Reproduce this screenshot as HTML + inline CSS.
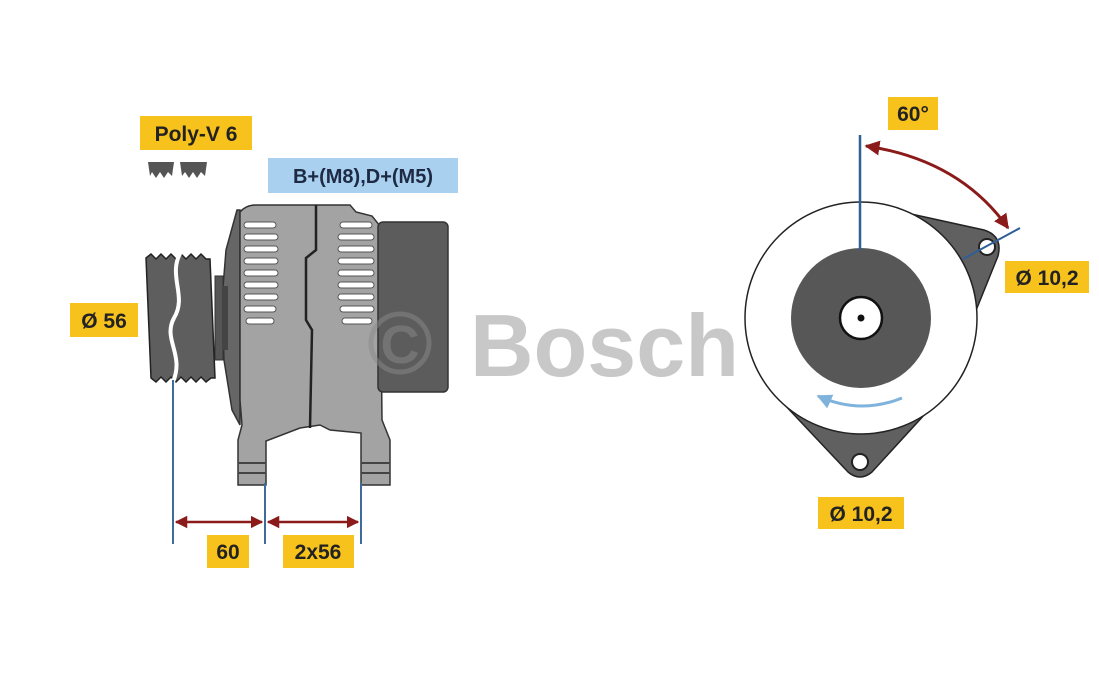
<!DOCTYPE html>
<html><head><meta charset="utf-8"><style>
html,body{margin:0;padding:0;background:#fff;}
svg{display:block;}
text{font-family:"Liberation Sans",sans-serif;font-weight:bold;}
</style></head><body>
<svg width="1099" height="687" viewBox="0 0 1099 687" xmlns="http://www.w3.org/2000/svg">
<defs>
<marker id="ar" viewBox="0 0 10 10" refX="9" refY="5" markerWidth="5" markerHeight="5" orient="auto-start-reverse"><path d="M0,0 L10,5 L0,10 z" fill="#8b1a1a"/></marker>
<marker id="ab" viewBox="0 0 10 10" refX="9" refY="5" markerWidth="5" markerHeight="5" orient="auto-start-reverse"><path d="M0,0 L10,5 L0,10 z" fill="#7fb3dc"/></marker>
</defs>
<rect width="1099" height="687" fill="#fff"/>

<text x="470" y="376" font-size="88" fill="#c8c8c8">Bosch</text>

<!-- labels -->
<rect x="140" y="116" width="112" height="34" fill="#f7c21c"/>
<text x="196" y="141" font-size="21" fill="#222" text-anchor="middle">Poly-V 6</text>
<rect x="268" y="158" width="190" height="35" fill="#a9d0ef"/>
<text x="363" y="183" font-size="20" fill="#1e2a44" text-anchor="middle">B+(M8),D+(M5)</text>
<rect x="70" y="303" width="68" height="34" fill="#f7c21c"/>
<text x="104" y="328" font-size="21" fill="#222" text-anchor="middle">Ø 56</text>
<rect x="207" y="535" width="42" height="33" fill="#f7c21c"/>
<text x="228" y="559" font-size="21" fill="#222" text-anchor="middle">60</text>
<rect x="283" y="535" width="71" height="33" fill="#f7c21c"/>
<text x="318" y="559" font-size="21" fill="#222" text-anchor="middle">2x56</text>
<rect x="888" y="97" width="50" height="33" fill="#f7c21c"/>
<text x="913" y="121" font-size="21" fill="#222" text-anchor="middle">60°</text>
<rect x="1005" y="261" width="84" height="32" fill="#f7c21c"/>
<text x="1047" y="285" font-size="21" fill="#222" text-anchor="middle">Ø 10,2</text>
<rect x="818" y="497" width="86" height="32" fill="#f7c21c"/>
<text x="861" y="521" font-size="21" fill="#222" text-anchor="middle">Ø 10,2</text>

<!-- belt icon -->
<path d="M148,162 L174,162 L172,176 L168,172 L164,178 L160,172 L156,178 L152,172 L150,176 Z" fill="#555"/>
<path d="M180,162 L207,162 L205,176 L201,172 L197,178 L193,172 L189,178 L185,172 L182,176 Z" fill="#555"/>

<!-- left view body -->
<path d="M237,210 L226,250 L222,300 L224,360 L232,410 L240,425 L240,210 Z" fill="#666" stroke="#333" stroke-width="1.5"/>
<path d="M240,212 Q246,205 256,205 L350,205 L356,212 L372,216 L380,226 L382,420 L390,440 L390,485 L361,485 L361,433 L330,430 L320,425 L300,428 L266,441 L266,485 L238,485 L238,440 L242,425 L240,400 Z" fill="#a3a3a3" stroke="#333" stroke-width="1.5"/>
<path d="M316,205 L316,250 L306,258 L306,320 L312,330 L310,428" fill="none" stroke="#222" stroke-width="2.5"/>
<path d="M238,463 H266 M238,473 H266 M361,463 H390 M361,473 H390" stroke="#444" stroke-width="2"/>
<g fill="#fff" stroke="#555" stroke-width="1">
<rect x="244" y="222" width="32" height="6" rx="3"/><rect x="244" y="234" width="34" height="6" rx="3"/>
<rect x="244" y="246" width="34" height="6" rx="3"/><rect x="244" y="258" width="34" height="6" rx="3"/>
<rect x="244" y="270" width="34" height="6" rx="3"/><rect x="244" y="282" width="34" height="6" rx="3"/>
<rect x="244" y="294" width="34" height="6" rx="3"/><rect x="244" y="306" width="32" height="6" rx="3"/>
<rect x="246" y="318" width="28" height="6" rx="3"/>
<rect x="340" y="222" width="32" height="6" rx="3"/><rect x="338" y="234" width="36" height="6" rx="3"/>
<rect x="338" y="246" width="36" height="6" rx="3"/><rect x="338" y="258" width="36" height="6" rx="3"/>
<rect x="338" y="270" width="36" height="6" rx="3"/><rect x="338" y="282" width="36" height="6" rx="3"/>
<rect x="338" y="294" width="36" height="6" rx="3"/><rect x="340" y="306" width="34" height="6" rx="3"/>
<rect x="342" y="318" width="30" height="6" rx="3"/>
</g>
<rect x="378" y="222" width="70" height="170" rx="5" fill="#5c5c5c" stroke="#333" stroke-width="1.5"/>
<!-- copyright watermark on top -->
<circle cx="400" cy="343" r="29" fill="none" stroke="#8a8a8a" stroke-width="5" opacity="0.5"/>
<text x="400" y="363" font-size="54" fill="#8a8a8a" opacity="0.5" text-anchor="middle">C</text>

<!-- pulley -->
<rect x="215" y="276" width="8" height="84" fill="#555" stroke="#333"/>
<rect x="222" y="286" width="6" height="64" fill="#444"/>
<path d="M146,258 l5,-4 l5,5 l5,-5 l5,5 l5,-5 l5,5 l5,-5 l5,5 l5,-5 l5,5 l5,-5 l5,5 l4,0 L215,378 l-4,0 l-5,4 l-5,-5 l-5,5 l-5,-5 l-5,5 l-5,-5 l-5,5 l-5,-5 l-5,5 l-5,-5 l-5,5 l-5,-4 Z" fill="#5e5e5e" stroke="#222" stroke-width="1.5"/>
<path d="M182,250 C166,275 188,295 174,318 C162,340 186,355 172,384" fill="none" stroke="#fff" stroke-width="4"/>

<!-- dimension lines left -->
<g stroke="#3d6b9e" stroke-width="2">
<line x1="173" y1="380" x2="173" y2="544"/>
<line x1="265" y1="483" x2="265" y2="544"/>
<line x1="361" y1="483" x2="361" y2="544"/>
</g>
<g stroke="#8b1a1a" stroke-width="2.5">
<line x1="176" y1="522" x2="262" y2="522" marker-start="url(#ar)" marker-end="url(#ar)"/>
<line x1="268" y1="522" x2="358" y2="522" marker-start="url(#ar)" marker-end="url(#ar)"/>
</g>

<!-- right view -->
<path d="M902,212 L984,230 Q1003,236 998,256 L960,350 L930,250 Z" fill="#606060" stroke="#222" stroke-width="1.5"/>
<path d="M782,402 L848,472 Q860,482 872,472 L936,402 L860,420 Z" fill="#606060" stroke="#222" stroke-width="1.5"/>
<circle cx="861" cy="318" r="116" fill="#fff" stroke="#222" stroke-width="1.5"/>
<circle cx="861" cy="318" r="70" fill="#575757"/>
<circle cx="861" cy="318" r="21" fill="#fff" stroke="#111" stroke-width="2.5"/>
<circle cx="861" cy="318" r="3.5" fill="#111"/>
<circle cx="987" cy="247" r="8" fill="#fff" stroke="#222" stroke-width="2"/>
<circle cx="860" cy="462" r="8" fill="#fff" stroke="#222" stroke-width="2"/>
<path d="M902,398 Q860,415 818,396" fill="none" stroke="#7fb3dc" stroke-width="3" marker-end="url(#ab)"/>
<line x1="860" y1="135" x2="860" y2="250" stroke="#2f5f96" stroke-width="2.5"/>
<line x1="963" y1="259" x2="1020" y2="228" stroke="#2f5f96" stroke-width="2"/>
<path d="M866,146 Q960,160 1008,228" fill="none" stroke="#8b1a1a" stroke-width="3" marker-start="url(#ar)" marker-end="url(#ar)"/>
</svg>
</body></html>
